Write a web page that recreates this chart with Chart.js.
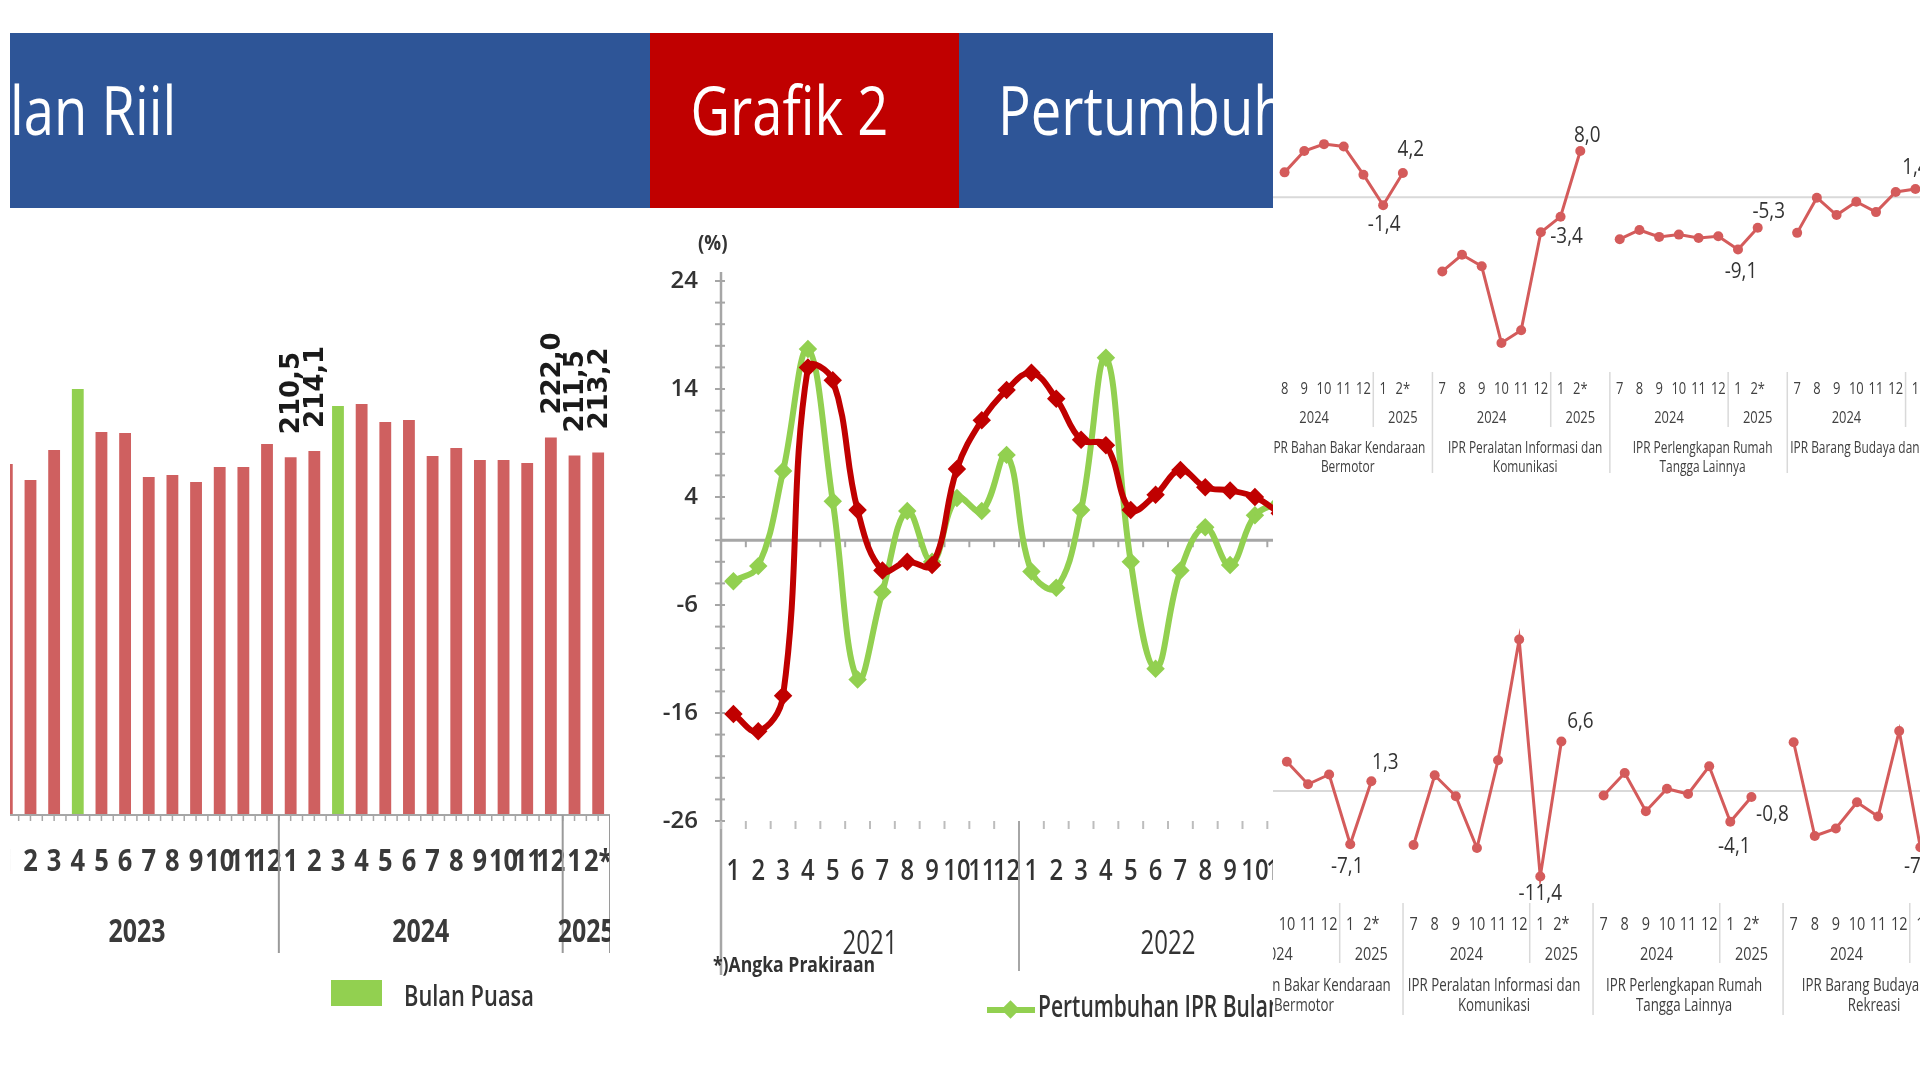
<!DOCTYPE html>
<html>
<head>
<meta charset="utf-8">
<title>Grafik 2 - IPR</title>
<script src="https://cdn.jsdelivr.net/npm/chart.js@4.4.1/dist/chart.umd.min.js"></script>
<style>
  html, body { margin: 0; padding: 0; background: #fff; }
  body { width: 1920px; height: 1080px; position: relative; overflow: hidden; font-family: 'Open Sans', sans-serif; }
  .clip { position: absolute; left: 0; top: 0; width: 1920px; height: 1080px; }
  #leftPart { clip-path: inset(0 647px 0 10px); }
  #rightPart { clip-path: inset(0 0 0 1273px); }
  canvas { position: absolute; }
  .t { position: absolute; white-space: nowrap; line-height: 1; transform-origin: 0 50%; }
  #banner { position: absolute; left: 10px; top: 33px; width: 1263px; height: 175px; background: #2E5597; }
  #bannerRed { position: absolute; left: 650px; top: 33px; width: 309px; height: 175px; background: #C00000; }
  .hdr { color: #fff; font-size: 68px; transform: scaleX(0.8); }
  #legLine { position: absolute; left: 987px; top: 1007px; width: 48px; height: 6px; background: #92D050; }
  #legDiamond { position: absolute; left: 1004px; top: 1003px; width: 13px; height: 13px; background: #92D050; transform: rotate(45deg); }
  #puasaBox { position: absolute; left: 331px; top: 980px; width: 51px; height: 26px; background: #92D050; }
</style>
</head>
<body>
<div id="leftPart" class="clip">
  <div id="banner"></div>
  <div id="bannerRed"></div>
  <div class="t hdr" style="left:10px;top:75px">lan Riil</div>
  <div class="t hdr" style="left:635px;top:75px;width:309px;text-align:center;transform-origin:50% 50%">Grafik 2</div>
  <div class="t hdr" style="left:998px;top:75px">Pertumbuhan</div>

  <canvas id="barChart" width="615" height="720" style="left:-5px;top:300px"></canvas>
  <div id="puasaBox"></div>
  <div class="t" style="left:404px;top:981px;font-size:28px;font-weight:600;color:#333;transform:scaleX(0.78)">Bulan Puasa</div>

  <canvas id="lineChart" width="688" height="840" style="left:640px;top:220px"></canvas>
  <div class="t" style="left:698px;top:230px;font-size:22px;font-weight:bold;color:#333;transform:scaleX(0.85)">(%)</div>
  <div class="t" style="left:713px;top:952px;font-size:22px;font-weight:bold;color:#333;transform:scaleX(0.8)">*)Angka Prakiraan</div>
  <div id="legLine"></div>
  <div id="legDiamond"></div>
  <div class="t" style="left:1038px;top:991px;font-size:30px;font-weight:600;color:#333;transform:scaleX(0.7)">Pertumbuhan IPR Bulanan</div>
</div>

<div id="rightPart" class="clip">
  <canvas id="subTop" width="700" height="400" style="left:1250px;top:100px"></canvas>
  <canvas id="subBottom" width="749" height="480" style="left:1208px;top:560px"></canvas>
</div>

<script>
// ---- Indeks Penjualan Riil (batang) ----
const barMonths = ['1','2','3','4','5','6','7','8','9','10','11','12','1','2','3','4','5','6','7','8','9','10','11','12','1','2*'];
const barYears = ['2023', '2024', '2025'];
const iprIndex = [206.5, 197.1, 214.7, 250.6, 225.3, 224.7, 198.8, 200.0, 195.9, 204.7, 204.7, 218.2,
                  210.5, 214.1, 240.6, 241.8, 231.2, 232.4, 211.2, 215.9, 208.8, 208.8, 207.1, 222.0,
                  211.5, 213.2];
const puasaMonths = [3, 14];
const iprLabeled = [12, 13, 23, 24, 25];

// ---- Grafik 2: pertumbuhan IPR (%) ----
const g2Months = ['1','2','3','4','5','6','7','8','9','10','11','12','1','2','3','4','5','6','7','8','9','10','11','12'];
const g2Years = ['2021', '2022'];
const g2Yticks = [24, 14, 4, -6, -16, -26];
const iprTahunan = [-16.1, -17.7, -14.4, 16.0, 14.8, 2.8, -2.8, -2.0, -2.3, 6.6, 11.1, 13.9,
                    15.5, 13.1, 9.3, 8.8, 2.8, 4.2, 6.5, 4.9, 4.6, 4.0, 2.5];
const iprBulanan = [-3.8, -2.4, 6.4, 17.7, 3.6, -12.9, -4.8, 2.7, -2.0, 3.9, 2.7, 7.9,
                    -2.9, -4.4, 2.8, 16.9, -2.0, -11.9, -2.8, 1.2, -2.3, 2.3, 3.5];

// ---- panel kanan: pertumbuhan per kelompok (%) ----
const subMonths = ['7','8','9','10','11','12','1','2*'];
const subYears = ['2024', '2025'];
const namesTop = [['IPR Bahan Bakar Kendaraan', 'Bermotor'], ['IPR Peralatan Informasi dan', 'Komunikasi'],
                  ['IPR Perlengkapan Rumah', 'Tangga Lainnya'], ['IPR Barang Budaya dan Rekreasi']];
const namesBottom = [['IPR Bahan Bakar Kendaraan', 'Bermotor'], ['IPR Peralatan Informasi dan', 'Komunikasi'],
                     ['IPR Perlengkapan Rumah', 'Tangga Lainnya'], ['IPR Barang Budaya dan', 'Rekreasi']];
const bbmTop = [null, 4.3, 8.0, 9.2, 8.8, 3.9, -1.4, 4.2];
const tikTop = [-12.9, -10.0, -12.0, -25.3, -23.1, -6.1, -3.4, 8.0];
const rumahTop = [-7.3, -5.7, -6.9, -6.5, -7.1, -6.8, -9.1, -5.3];
const budayaTop = [-6.2, -0.1, -3.1, -0.8, -2.6, 0.9, 1.4, null];
const bbmBottom = [null, null, null, 3.9, 0.9, 2.2, -7.1, 1.3];
const tikBottom = [-7.2, 2.1, -0.7, -7.6, 4.1, 20.2, -11.4, 6.6];
const rumahBottom = [-0.6, 2.4, -2.7, 0.3, -0.4, 3.3, -4.1, -0.8];
const budayaBottom = [6.5, -6.0, -5.0, -1.5, -3.4, 8.0, -7.5, null];

Chart.defaults.font.family = "'Open Sans', sans-serif";

const fmt = v => v.toFixed(1).replace('.', ',');

function line(ctx, x1, y1, x2, y2) {
  ctx.beginPath();
  ctx.moveTo(x1, y1);
  ctx.lineTo(x2, y2);
  ctx.stroke();
}

// text, optionally squeezed horizontally (sx) or rotated
function drawText(ctx, s, x, y, o) {
  ctx.save();
  ctx.font = o.font;
  ctx.fillStyle = o.color || '#333';
  ctx.textAlign = o.align || 'center';
  ctx.textBaseline = 'middle';
  ctx.translate(x, y);
  if (o.rot) ctx.rotate(o.rot);
  ctx.scale(o.sx || 1, 1);
  ctx.fillText(s, 0, 0);
  ctx.restore();
}

function catHalf(x) {
  return (x.getPixelForValue(1) - x.getPixelForValue(0)) / 2;
}

// month labels -> runs of one year each (a '1' starts a new year)
function yearSpans(months) {
  const runs = [];
  months.forEach((m, i) => {
    if (i === 0 || m === '1') runs.push({ start: i, end: i });
    else runs[runs.length - 1].end = i;
  });
  return runs;
}

// ---------- bar chart ----------
const barDecor = {
  id: 'barDecor',
  afterDatasetsDraw(chart) {
    const { ctx, scales: { x, y } } = chart;
    const base = y.getPixelForValue(0);
    const half = catHalf(x);
    ctx.save();
    ctx.strokeStyle = '#A6A6A6';
    ctx.lineWidth = 2;
    line(ctx, x.left, base, x.right, base);
    ctx.lineWidth = 1.5;
    for (let k = 0; k <= barMonths.length * 2; k++) {
      const tx = x.left + k * half;
      line(ctx, tx, base, tx, base + 6);
    }
    ctx.restore();

    barMonths.forEach((m, i) => {
      drawText(ctx, m, x.getPixelForValue(i), base + 47, { font: 'bold 30px "Open Sans"', sx: 0.85, color: '#3A3A3A' });
    });
    yearSpans(barMonths).forEach((r, k) => {
      const l = x.getPixelForValue(r.start) - half;
      const rr = x.getPixelForValue(r.end) + half;
      ctx.save();
      ctx.strokeStyle = '#9A9A9A';
      ctx.lineWidth = 2;
      line(ctx, rr, base, rr, base + 138);
      ctx.restore();
      drawText(ctx, barYears[k], (l + rr) / 2, base + 118, { font: 'bold 32px "Open Sans"', sx: 0.78, color: '#3A3A3A' });
    });
    iprLabeled.forEach(i => {
      drawText(ctx, fmt(iprIndex[i]), x.getPixelForValue(i) + 2, y.getPixelForValue(iprIndex[i]) - 23,
        { font: 'bold 26px "DejaVu Sans"', align: 'left', rot: -Math.PI / 2, color: '#1A1A1A' });
    });
  }
};

new Chart(document.getElementById('barChart'), {
  type: 'bar',
  data: {
    labels: barMonths,
    datasets: [{
      data: iprIndex,
      backgroundColor: iprIndex.map((v, i) => puasaMonths.includes(i) ? '#92D050' : '#CF6060'),
      barPercentage: 0.5,
      categoryPercentage: 1
    }]
  },
  options: {
    responsive: false,
    animation: false,
    layout: { padding: { top: 39, bottom: 205, left: 0, right: 0 } },
    plugins: { legend: { display: false }, tooltip: { enabled: false } },
    scales: {
      x: { display: false },
      y: { display: false, min: 0, max: 280 }
    }
  },
  plugins: [barDecor]
});

// ---------- Grafik 2 line chart ----------
const g2Decor = {
  id: 'g2Decor',
  beforeDatasetsDraw(chart) {
    const { ctx, scales: { x, y } } = chart;
    const ax = x.left;
    const yb = y.getPixelForValue(y.min);
    const y0 = y.getPixelForValue(0);
    const half = catHalf(x);
    ctx.save();
    ctx.strokeStyle = '#A6A6A6';
    ctx.lineWidth = 2.5;
    line(ctx, ax, y.getPixelForValue(y.max) - 9, ax, yb + 154);
    ctx.lineWidth = 2;
    for (let v = y.min; v <= y.max; v += 2) {
      const py = y.getPixelForValue(v);
      line(ctx, ax - 6, py, ax + 4, py);
    }
    ctx.lineWidth = 3;
    line(ctx, ax, y0, x.right, y0);
    ctx.lineWidth = 2;
    for (let i = 0; i <= g2Months.length; i++) {
      const tx = ax + i * 2 * half;
      line(ctx, tx, y0, tx, y0 + 7);
      ctx.strokeStyle = '#BDBDBD';
      line(ctx, tx, yb, tx, yb + 8);
      ctx.strokeStyle = '#A6A6A6';
    }
    ctx.restore();

    g2Yticks.forEach(t => {
      drawText(ctx, String(t), ax - 23, y.getPixelForValue(t), { font: '600 24px "Open Sans"', align: 'right', color: '#333' });
    });
    g2Months.forEach((m, i) => {
      drawText(ctx, m, x.getPixelForValue(i), yb + 51, { font: '600 28px "Open Sans"', sx: 0.85, color: '#333' });
    });
    yearSpans(g2Months).forEach((r, k) => {
      const l = x.getPixelForValue(r.start) - half;
      const rr = x.getPixelForValue(r.end) + half;
      ctx.save();
      ctx.strokeStyle = '#A6A6A6';
      ctx.lineWidth = 2;
      line(ctx, rr, yb, rr, yb + 150);
      ctx.restore();
      drawText(ctx, g2Years[k], (l + rr) / 2, yb + 124, { font: '32px "Open Sans"', sx: 0.75, color: '#333' });
    });
  }
};

new Chart(document.getElementById('lineChart'), {
  type: 'line',
  data: {
    labels: g2Months,
    datasets: [
      {
        label: 'Pertumbuhan IPR Tahunan',
        data: iprTahunan,
        borderColor: '#C00000',
        backgroundColor: '#C00000',
        borderWidth: 6,
        pointStyle: 'rectRot',
        pointRadius: 5,
        tension: 0.4,
        clip: false
      },
      {
        label: 'Pertumbuhan IPR Bulanan',
        data: iprBulanan,
        borderColor: '#92D050',
        backgroundColor: '#92D050',
        borderWidth: 6,
        pointStyle: 'rectRot',
        pointRadius: 5,
        tension: 0.4,
        clip: false
      }
    ]
  },
  options: {
    responsive: false,
    animation: false,
    layout: { padding: { top: 61, bottom: 239, left: 81, right: 0 } },
    plugins: { legend: { display: false }, tooltip: { enabled: false } },
    scales: {
      x: { display: false, offset: true },
      y: { display: false, min: -26, max: 24 }
    }
  },
  plugins: [g2Decor]
});

// ---------- right panel small multiples ----------
function buildRow(series) {
  const labels = [];
  const values = [];
  series.forEach((s, g) => {
    if (g > 0) { labels.push(''); values.push(null); }
    subMonths.forEach((m, i) => { labels.push(m); values.push(s[i]); });
  });
  return { labels, values };
}

function subDecor(id, names, series, offsets, lay) {
  const axisFont = lay.fs + 'px "Open Sans"';
  return {
    id,
    beforeDatasetsDraw(chart) {
      const { ctx, chartArea, scales: { y } } = chart;
      const y0 = y.getPixelForValue(0);
      ctx.save();
      ctx.strokeStyle = '#D9D9D9';
      ctx.lineWidth = 2;
      line(ctx, chartArea.left, y0, chartArea.right, y0);
      ctx.restore();
    },
    afterDatasetsDraw(chart) {
      const { ctx, chartArea, scales: { x, y } } = chart;
      const half = catHalf(x);
      const bot = chartArea.bottom;
      const stride = subMonths.length + 1;
      const runs = yearSpans(subMonths);
      names.forEach((nm, g) => {
        const s = g * stride;
        const gl = x.getPixelForValue(s) - half;
        const gr = gl + stride * 2 * half;
        ctx.save();
        ctx.strokeStyle = '#D9D9D9';
        ctx.lineWidth = 1.5;
        line(ctx, gl, bot + lay.sep, gl, bot + lay.groupSep);
        runs.forEach((r, k) => {
          const l = k === 0 ? gl : x.getPixelForValue(s + r.start) - half;
          const rr = k === runs.length - 1 ? gr : x.getPixelForValue(s + r.end) + half;
          if (k < runs.length - 1) line(ctx, rr, bot + lay.sep, rr, bot + lay.yearSep);
          drawText(ctx, subYears[k], (l + rr) / 2, bot + lay.year, { font: axisFont, sx: 0.76, color: '#404040' });
        });
        ctx.restore();
        subMonths.forEach((m, i) => {
          drawText(ctx, m, x.getPixelForValue(s + i), bot + lay.month, { font: axisFont, sx: 0.76, color: '#404040' });
        });
        nm.forEach((ln, j) => {
          drawText(ctx, ln, (gl + gr) / 2 + lay.nameDx, bot + lay.name + j * lay.lineH, { font: axisFont, sx: 0.7, color: '#404040' });
        });
      });
      offsets.forEach(([g, i, dx, dy]) => {
        const v = series[g][i];
        if (v == null) return;
        drawText(ctx, fmt(v), x.getPixelForValue(g * stride + i) + dx, y.getPixelForValue(v) + dy,
          { font: '21px "Open Sans"', sx: 0.9, color: '#333' });
      });
    }
  };
}

function subChart(canvasId, series, names, offsets, yMin, yMax, pad, lay) {
  const row = buildRow(series);
  return new Chart(document.getElementById(canvasId), {
    type: 'line',
    data: {
      labels: row.labels,
      datasets: [{
        data: row.values,
        borderColor: '#D45B5B',
        backgroundColor: '#D45B5B',
        borderWidth: 3,
        pointRadius: 5,
        pointBorderWidth: 0,
        tension: 0,
        spanGaps: false,
        clip: false
      }]
    },
    options: {
      responsive: false,
      animation: false,
      layout: { padding: pad },
      plugins: { legend: { display: false }, tooltip: { enabled: false } },
      scales: {
        x: { display: false, offset: true },
        y: { display: false, min: yMin, max: yMax }
      }
    },
    plugins: [subDecor(canvasId + 'Decor', names, series, offsets, lay)]
  });
}

const topSeries = [bbmTop, tikTop, rumahTop, budayaTop];
const bottomSeries = [bbmBottom, tikBottom, rumahBottom, budayaBottom];

subChart('subTop', topSeries, namesTop,
  [[0, 6, 1, 20], [0, 7, 8, -23], [1, 6, 6, 20], [1, 7, 7, -15], [2, 6, 3, 22], [2, 7, 11, -16], [3, 6, 0, -21]],
  -30, 12, { top: 28, bottom: 130, left: 0, right: 0 },
  { fs: 17, month: 19, year: 48, name: 78, lineH: 19, nameDx: 4, sep: 2, yearSep: 57, groupSep: 103 });

subChart('subBottom', bottomSeries, namesBottom,
  [[0, 6, -3, 23], [0, 7, 14, -18], [1, 6, 0, 18], [1, 7, 19, -19], [2, 6, 4, 25], [2, 7, 21, 18], [3, 6, 0, 20]],
  -14, 22, { top: 66, bottom: 144, left: 0, right: 0 },
  { fs: 19, month: 29, year: 59, name: 90, lineH: 20, nameDx: -4, sep: 7, yearSep: 67, groupSep: 119 });
</script>
</body>
</html>
